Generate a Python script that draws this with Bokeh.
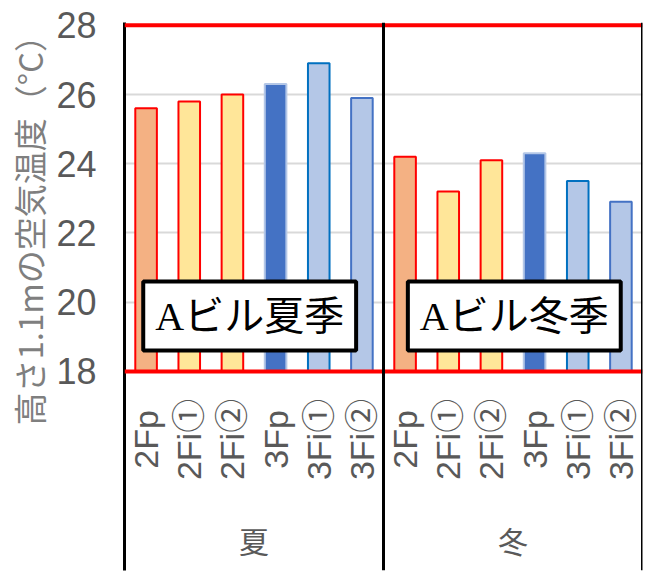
import math
from bokeh.plotting import figure
from bokeh.models import (ColumnDataSource, FactorRange, Range1d, FixedTicker,
                          Span, Label)
from bokeh.core.properties import value
from bokeh.embed import file_html
from bokeh.resources import INLINE

# ---- data ----
seasons = ["夏", "冬"]
labels = ["2Fp", "2Fi①", "2Fi②", "3Fp", "3Fi①", "3Fi②"]
summer_temp = [25.6, 25.8, 26.0, 26.3, 26.9, 25.9]
winter_temp = [24.2, 23.2, 24.1, 24.3, 23.5, 22.9]
box_titles = ["Aビル夏季", "Aビル冬季"]
y_ticks = [18, 20, 22, 24, 26, 28]
y_label = "高さ1.1mの空気温度（°C）"

# ---- styles ----
fills = ["#F4B183", "#FFE699", "#FFE699", "#4472C4", "#B4C7E7", "#B4C7E7"]
lines = ["#FF0000", "#FF0000", "#FF0000", "#B4C7E7", "#0070C0", "#4472C4"]

factors = [(s, l) for s in seasons for l in labels]
temps = summer_temp + winter_temp
src = ColumnDataSource(dict(x=factors, top=temps, fill=fills * 2, line=lines * 2,
                            lab=[l for s in seasons for l in labels]))

x_range = FactorRange(factors=factors, group_padding=0, subgroup_padding=0,
                      range_padding=0)
p = figure(width=650, height=575, x_range=x_range, y_range=Range1d(12.25, 28.08),
           output_backend="svg", toolbar_location=None, x_axis_location=None,
           min_border_left=124, min_border_right=8, min_border_top=22,
           min_border_bottom=5)
p.outline_line_color = None
p.xgrid.visible = False
p.ygrid.ticker = FixedTicker(ticks=[20, 22, 24, 26])
p.ygrid.grid_line_color = "#D9D9D9"
p.ygrid.grid_line_width = 2

ax = p.yaxis[0]
ax.ticker = FixedTicker(ticks=y_ticks)
ax.major_tick_line_color = None
ax.minor_tick_line_color = None
ax.major_tick_out = 0
ax.major_tick_in = 0
ax.minor_tick_out = 0
ax.axis_line_color = "black"
ax.axis_line_width = 3
ax.major_label_text_font = "Liberation Sans"
ax.major_label_text_font_size = "36px"
ax.major_label_text_color = "#595959"
ax.major_label_standoff = 28
# leading ideographic spaces keep the label centred on the 18-28 part of the frame
ax.axis_label = "\u3000" * 4 + "\u2002" + y_label
ax.axis_label_text_font = "Noto Sans CJK JP"
ax.axis_label_text_font_size = "33px"
ax.axis_label_text_font_style = "normal"
ax.axis_label_text_color = "#7F7F7F"
ax.axis_label_standoff = 0

p.vbar(x="x", top="top", bottom=18, width=0.5, source=src,
       fill_color="fill", line_color="line", line_width=2)

# frame lines
p.add_layout(Span(location=28, dimension="width", line_color="#FF0000", line_width=4))
p.add_layout(Span(location=18, dimension="width", line_color="#FF0000", line_width=4))
p.add_layout(Span(location=6, dimension="height", line_color="black", line_width=3))
p.add_layout(Span(location=12, dimension="height", line_color="black", line_width=3))

# category labels (rotated)
p.text(x="x", y=18, text="lab", source=src, angle=math.pi / 2,
       text_align="center", text_baseline="middle", y_offset=68,
       text_font=value("Liberation Sans, Noto Sans CJK JP"), text_font_size="34px",
       text_color="#595959")
# group labels
p.text(x=seasons, y=[18, 18], text=seasons, text_align="center",
       text_baseline="middle", y_offset=169,
       text_font=value("Noto Sans CJK JP"), text_font_size="30px",
       text_color="#595959")

# boxed titles
for xpos, t in zip([2.9, 9.03], box_titles):
    p.add_layout(Label(x=xpos, y=19.6, text=t, text_align="center",
                       text_baseline="middle",
                       text_font="Liberation Serif, Noto Sans CJK JP",
                       text_font_size="40px", text_color="black",
                       background_fill_color="white", border_line_color="black",
                       border_line_width=4, padding=12))

open("out.html", "w").write(file_html(p, INLINE))
